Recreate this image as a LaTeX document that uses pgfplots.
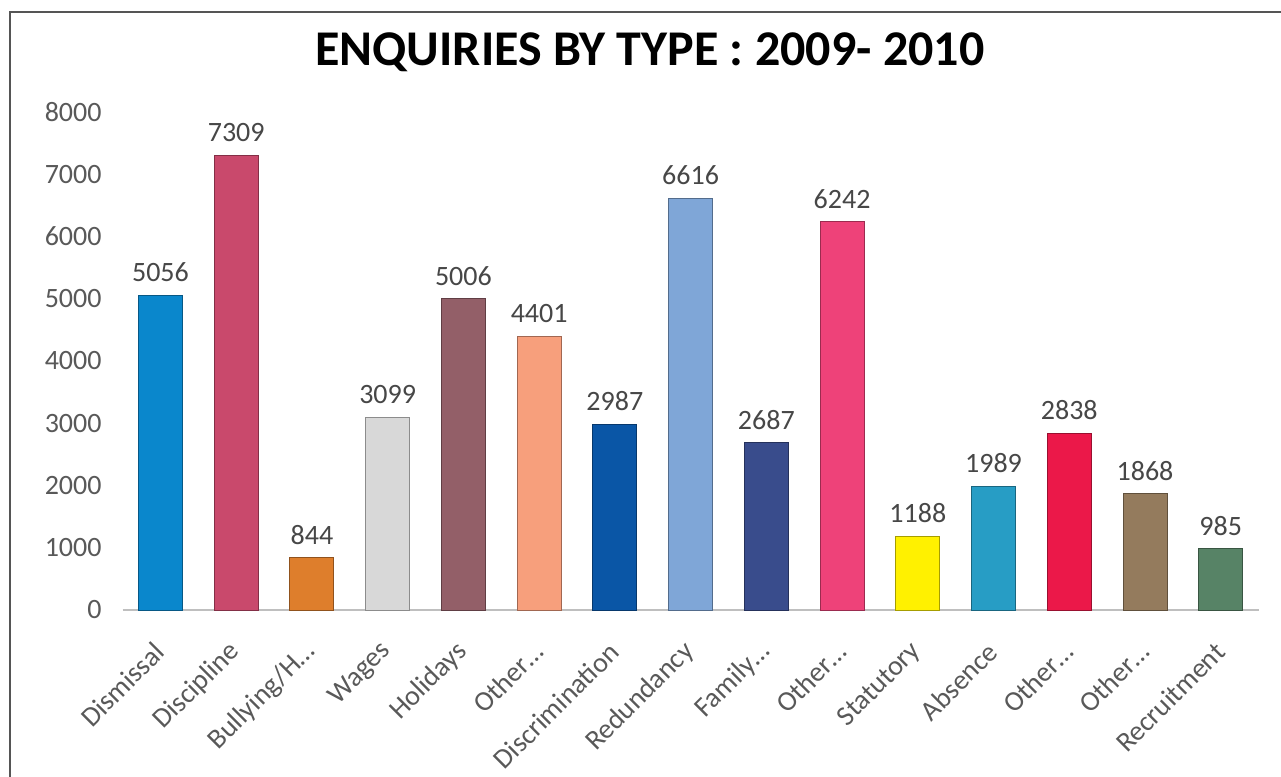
\documentclass[border=0pt]{standalone}
\usepackage{fontspec}
\setmainfont{Carlito}
\usepackage{pgfplots}
\pgfplotsset{compat=1.18}
\definecolor{c1}{HTML}{0A87CC}
\definecolor{c2}{HTML}{C9496C}
\definecolor{c3}{HTML}{DE7E2C}
\definecolor{c4}{HTML}{D8D8D8}
\definecolor{c5}{HTML}{935F68}
\definecolor{c6}{HTML}{F79F7C}
\definecolor{c7}{HTML}{0A56A6}
\definecolor{c8}{HTML}{7FA6D7}
\definecolor{c9}{HTML}{394C8C}
\definecolor{c10}{HTML}{EE4279}
\definecolor{c11}{HTML}{FFF100}
\definecolor{c12}{HTML}{279DC5}
\definecolor{c13}{HTML}{EB1849}
\definecolor{c14}{HTML}{947B5D}
\definecolor{c15}{HTML}{578366}
\definecolor{framec}{HTML}{555555}
\definecolor{tickc}{HTML}{595959}
\definecolor{axisc}{HTML}{BFBFBF}
\newcommand{\onebar}[3]{\addplot[fill=#1, draw=#1!65!black, line width=0.5pt] coordinates {(#2,#3)};}
\begin{document}
\begin{tikzpicture}[x=1pt,y=1pt]
\path[use as bounding box] (-61.3,-83.5) rectangle (579.2,305);
\fill[white] (-61.3,-83.5) rectangle (579.2,305);
\draw[line width=1.2pt, color=framec] (-56.3,-83.5) -- (-56.3,299) -- (579.2,299);
\begin{axis}[
  at={(0,0)}, anchor=south west,
  scale only axis, width=568pt, height=249pt,
  xmin=-0.5, xmax=14.5, ymin=0, ymax=8000,
  ybar, bar shift=0pt, bar width=22pt,
  axis x line*=bottom, axis y line*=left,
  x axis line style={draw=axisc, line width=1pt, -},
  y axis line style={draw=none},
  ytick={0,1000,...,8000},
  xtick={0,...,14},
  xticklabels={Dismissal,Discipline,Bullying/H\ldots,Wages,Holidays,Other\ldots,Discrimination,Redundancy,Family\ldots,Other\ldots,Statutory,Absence,Other\ldots,Other\ldots,Recruitment},
  major tick length=0pt,
  /pgf/number format/assume math mode=true,
  /pgf/number format/1000 sep={},
  yticklabel style={font=\fontsize{14}{14}\selectfont, color=tickc, xshift=-7pt},
  xticklabel style={font=\fontsize{14}{14}\selectfont, color=tickc, rotate=45, anchor=east, xshift=-10pt, yshift=-13pt},
  nodes near coords,
  nodes near coords style={font=\fontsize{14}{14}\selectfont, color=tickc!80!black, yshift=3pt, /pgf/number format/1000 sep={}, /pgf/number format/assume math mode=true},
  title={ENQUIRIES BY TYPE : 2009- 2010},
  title style={font=\fontsize{25}{25}\selectfont\bfseries, at={(axis description cs:0.464,1.096)}, anchor=center},
  clip=false,
]
\onebar{c1}{0}{5056}
\onebar{c2}{1}{7309}
\onebar{c3}{2}{844}
\onebar{c4}{3}{3099}
\onebar{c5}{4}{5006}
\onebar{c6}{5}{4401}
\onebar{c7}{6}{2987}
\onebar{c8}{7}{6616}
\onebar{c9}{8}{2687}
\onebar{c10}{9}{6242}
\onebar{c11}{10}{1188}
\onebar{c12}{11}{1989}
\onebar{c13}{12}{2838}
\onebar{c14}{13}{1868}
\onebar{c15}{14}{985}
\end{axis}
\end{tikzpicture}
\end{document}
